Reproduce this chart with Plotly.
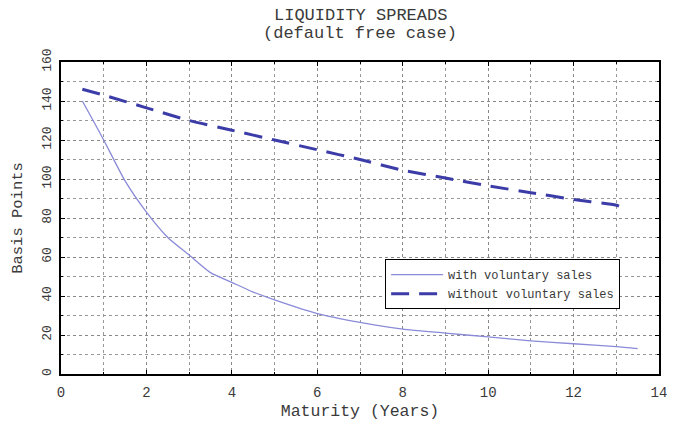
import plotly.graph_objects as go

# Data
mat_with = [0.5, 1.0, 1.5, 2.0, 2.5, 3.0, 3.5, 4.0, 4.5, 5.0, 6.0, 7.0, 8.0, 9.0, 10.0, 11.0, 12.0, 13.0, 13.5]
spread_with = [140, 120, 99, 83, 70, 61, 52, 47, 42, 38, 31, 26.5, 23, 21, 19, 17, 15.5, 14, 13]

mat_without = [0.5, 1.0, 2.0, 3.0, 4.0, 5.0, 6.0, 7.0, 8.0, 9.0, 10.0, 11.0, 12.0, 13.0, 13.2]
spread_without = [146, 143, 136.5, 130, 125, 120, 115, 110, 104.5, 100.5, 96.5, 93, 89.5, 86.5, 85]

x_ticks = [0, 2, 4, 6, 8, 10, 12, 14]
y_ticks = [0, 20, 40, 60, 80, 100, 120, 140, 160]

title_lines = ["LIQUIDITY SPREADS", "(default free case)"]

FONT = "Liberation Mono"
TXT = "#3a3a3a"

fig = go.Figure()
fig.add_trace(go.Scatter(
    x=mat_with, y=spread_with, mode="lines", name="with voluntary sales",
    line=dict(color="#8a8ad8", width=1.3, shape="spline", smoothing=0.6),
))
fig.add_trace(go.Scatter(
    x=mat_without, y=spread_without, mode="lines", name="without voluntary sales",
    line=dict(color="#3c3ca8", width=3, dash="18px,10px", shape="spline", smoothing=0.6),
))

axis_common = dict(
    showline=True, linecolor="black", linewidth=1.5, mirror="allticks",
    ticks="inside", ticklen=4, tickcolor="black",
    showgrid=True, gridcolor="#888888", griddash="dot", gridwidth=1,
    zeroline=False,
)

fig.update_xaxes(
    range=[0, 14], tickvals=x_ticks, ticktext=[str(v) for v in x_ticks],
    ticklabelstandoff=4, tickfont=dict(family=FONT, size=14, color=TXT),
    minor=dict(dtick=1, showgrid=True, gridcolor="#999999", griddash="dot", ticks="inside", ticklen=2, tickcolor="black"),
    title=dict(text="Maturity (Years)", font=dict(family=FONT, size=16.5, color=TXT), standoff=5),
    **axis_common,
)
fig.update_yaxes(
    range=[0, 160], tickvals=y_ticks, ticktext=[str(v) for v in y_ticks], tickangle=-90,
    ticklabelstandoff=3, tickfont=dict(family=FONT, size=13, color=TXT),
    minor=dict(dtick=10, showgrid=True, gridcolor="#999999", griddash="dot", ticks="inside", ticklen=2, tickcolor="black"),
    title=dict(text="Basis Points", font=dict(family=FONT, size=15.5, color=TXT), standoff=14),
    **axis_common,
)

for txt, ypx in zip(title_lines, [15, 33]):
    fig.add_annotation(
        text=txt, xref="paper", yref="paper", x=0.5, y=1 + (62 - ypx) / 315,
        xanchor="center", yanchor="middle", showarrow=False,
        font=dict(family=FONT, size=17, color=TXT),
    )

fig.update_layout(
    width=675, height=425,
    margin=dict(l=61, r=8, t=62, b=48),
    paper_bgcolor="white", plot_bgcolor="white",
    legend=dict(
        x=0.542, y=0.368, xanchor="left", yanchor="top",
        bgcolor="white", bordercolor="black", borderwidth=1,
        font=dict(family=FONT, size=12, color=TXT),
        tracegroupgap=0, itemwidth=52,
    ),
    showlegend=True,
)

fig.write_html("out.html")
